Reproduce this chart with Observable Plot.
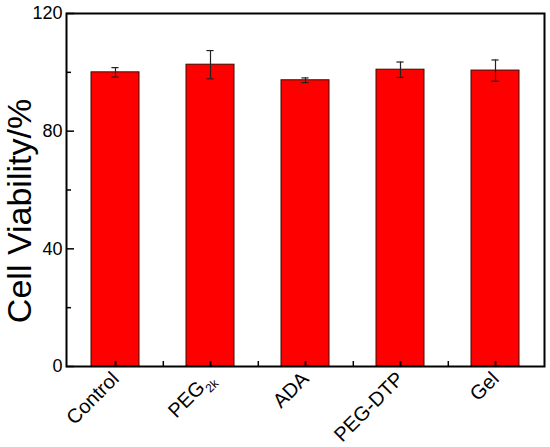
<!DOCTYPE html>
<html><head><meta charset="utf-8">
<script src="https://cdn.jsdelivr.net/npm/d3@7"></script>
<script src="https://cdn.jsdelivr.net/npm/@observablehq/plot@0.6"></script>
<style>body{margin:0;background:#fff;}</style>
</head><body><div id="chart"></div>
<script>
const categories = ["Control", "PEG2k", "ADA", "PEG-DTP", "Gel"];
const viability = [100.0, 102.6, 97.3, 100.9, 100.6];
const errors = [1.6, 4.8, 0.8, 2.6, 3.6];
const majorTicks = [0, 40, 80, 120];
const minorTicks = [20, 60, 100];
const yLabel = "Cell Viability/%";

const data = categories.map((c, i) => ({
  category: c, value: viability[i], lo: viability[i] - errors[i], hi: viability[i] + errors[i]
}));

const W = 550, H = 447, ml = 66, mr = 6, mt = 13, mb = 81;
const step = (W - ml - mr) / categories.length;
const bandwidth = step * 0.5;
const capHalf = 3.5;
const capInset = bandwidth / 2 - capHalf;

const chart = Plot.plot({
  width: W, height: H, marginLeft: ml, marginRight: mr, marginTop: mt, marginBottom: mb,
  style: {fontFamily: "'Liberation Sans', Arial, sans-serif", fontSize: "18px", color: "#000", background: "#fff"},
  x: {domain: categories, paddingInner: 0.5, paddingOuter: 0.25, label: null},
  y: {domain: [0, 120], label: null},
  marks: [
    Plot.barY(data, {x: "category", y: "value", fill: "#ff0000", stroke: "#3a0d00", strokeWidth: 1}),
    Plot.ruleX(data, {x: "category", y1: "lo", y2: "hi", stroke: "#222", strokeWidth: 1.2}),
    Plot.tickY(data, {x: "category", y: "hi", stroke: "#222", strokeWidth: 1.2, insetLeft: capInset, insetRight: capInset}),
    Plot.tickY(data, {x: "category", y: "lo", stroke: "#222", strokeWidth: 1.2, insetLeft: capInset, insetRight: capInset}),
    Plot.axisY(majorTicks, {tickSize: -8, tickPadding: 12, label: null, strokeWidth: 1.5, fontSize: 18}),
    Plot.axisY(minorTicks, {tickSize: -5, fill: "none", label: null, strokeWidth: 1.5}),
    Plot.axisX({tickSize: -5, tickPadding: 14, tickRotate: -45, label: null, strokeWidth: 1.5, fontSize: 20}),
    Plot.axisX(categories, {tickSize: -5, fill: "none", label: null, strokeWidth: 1.5}),
    Plot.axisX(categories.slice(0, -1), {tickSize: -5, fill: "none", dx: step / 2, label: null, strokeWidth: 1.5}),
    Plot.frame({stroke: "#000", strokeWidth: 2}),
    Plot.text([yLabel], {frameAnchor: "left", text: d => d, rotate: -90, textAnchor: "middle", dx: -46, dy: 21, fontSize: 34, fill: "#000"})
  ]
});

d3.select(chart).selectAll("text").filter(function() { return this.textContent === "PEG2k"; })
  .each(function() {
    const t = d3.select(this);
    t.text(null);
    t.append("tspan").text("PEG");
    t.append("tspan").attr("font-size", 12).attr("dy", 6).text("2k");
  });

document.getElementById("chart").appendChild(chart);
</script>
</body></html>
